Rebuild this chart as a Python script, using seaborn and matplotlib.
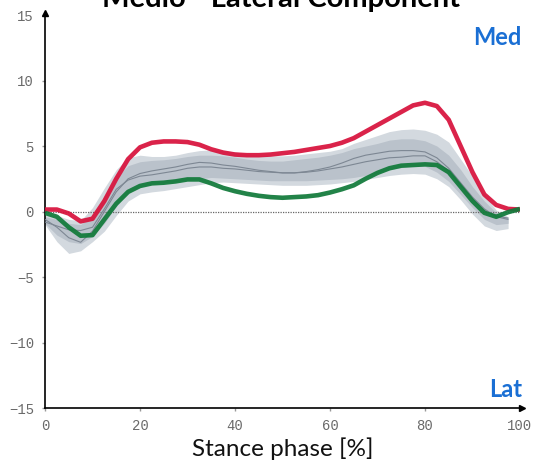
import matplotlib
matplotlib.use("Agg")
import matplotlib.pyplot as plt
import seaborn as sns
import numpy as np

# ---------------- data ----------------
stance = [0, 2.5, 5, 7.5, 10, 12.5, 15, 17.5, 20, 22.5, 25, 27.5, 30, 32.5, 35, 37.5,
          40, 42.5, 45, 47.5, 50, 52.5, 55, 57.5, 60, 62.5, 65, 67.5, 70, 72.5, 75,
          77.5, 80, 82.5, 85, 87.5, 90, 92.5, 95, 97.5, 100]

medial_red = [0.15, 0.15, -0.15, -0.75, -0.55, 0.8, 2.5, 4.0, 4.9, 5.25, 5.35, 5.35, 5.3,
              5.1, 4.75, 4.5, 4.35, 4.3, 4.3, 4.35, 4.45, 4.55, 4.7, 4.85, 5.0, 5.25,
              5.6, 6.1, 6.6, 7.1, 7.6, 8.1, 8.3, 8.05, 7.0, 5.0, 3.0, 1.3, 0.5, 0.2, 0.15]

lateral_green = [-0.1, -0.4, -1.2, -1.85, -1.8, -0.6, 0.6, 1.5, 1.95, 2.15, 2.2, 2.3,
                 2.45, 2.45, 2.15, 1.8, 1.55, 1.35, 1.2, 1.1, 1.05, 1.1, 1.15, 1.25,
                 1.45, 1.7, 2.0, 2.5, 2.95, 3.3, 3.5, 3.55, 3.6, 3.55, 3.0, 1.9, 0.8,
                 -0.1, -0.4, -0.05, 0.2]

norm_x = stance[:-1]

norm_line_a = [-0.6, -1.2, -2.0, -2.35, -1.5, 0.0, 1.5, 2.5, 2.9, 3.1, 3.25, 3.4, 3.6,
               3.75, 3.7, 3.55, 3.45, 3.3, 3.15, 3.05, 2.95, 2.95, 3.05, 3.2, 3.4, 3.7,
               4.05, 4.3, 4.45, 4.6, 4.65, 4.65, 4.55, 4.1, 3.3, 2.2, 1.1, 0.2, -0.4, -0.6]

norm_line_b = [-0.8, -1.1, -1.4, -1.45, -1.2, 0.2, 1.7, 2.4, 2.7, 2.8, 2.95, 3.1, 3.3,
               3.4, 3.4, 3.3, 3.25, 3.15, 3.05, 3.0, 2.95, 2.95, 3.0, 3.1, 3.25, 3.4,
               3.6, 3.8, 3.95, 4.1, 4.15, 4.25, 4.25, 3.8, 3.1, 2.0, 1.0, 0.1, -0.35, -0.5]

outer_upper = [-0.2, -0.3, -0.6, -0.7, 0.3, 1.8, 3.2, 4.1, 4.3, 4.2, 4.2, 4.3, 4.5, 4.65,
               4.7, 4.65, 4.55, 4.4, 4.3, 4.25, 4.25, 4.3, 4.4, 4.5, 4.6, 4.8, 5.2, 5.5,
               5.8, 6.1, 6.25, 6.3, 6.2, 5.9, 5.3, 4.0, 2.7, 1.3, 0.1, -0.4]

outer_lower = [-1.0, -2.3, -3.2, -3.0, -2.3, -1.5, -0.3, 0.8, 1.35, 1.5, 1.6, 1.75, 1.9,
               2.05, 2.2, 2.25, 2.2, 2.15, 2.1, 2.05, 2.0, 2.0, 2.0, 2.05, 2.1, 2.2, 2.3,
               2.45, 2.6, 2.75, 2.85, 2.9, 2.85, 2.5, 1.9, 0.9, -0.2, -1.1, -1.45, -1.3]

inner_upper = [-0.4, -0.6, -0.9, -1.0, -0.3, 1.2, 2.6, 3.5, 3.8, 3.9, 3.95, 4.05, 4.2,
               4.3, 4.3, 4.25, 4.15, 4.0, 3.9, 3.85, 3.85, 3.95, 4.05, 4.15, 4.3, 4.5,
               4.8, 5.0, 5.2, 5.45, 5.55, 5.55, 5.4, 5.0, 4.3, 3.2, 1.9, 0.8, -0.1, -0.5]

inner_lower = [-0.9, -1.8, -2.3, -2.45, -1.9, -0.9, 0.4, 1.4, 1.9, 2.1, 2.2, 2.3, 2.4,
               2.5, 2.6, 2.55, 2.5, 2.45, 2.4, 2.35, 2.35, 2.35, 2.35, 2.4, 2.45, 2.5,
               2.6, 2.75, 2.95, 3.2, 3.35, 3.45, 3.45, 3.0, 2.3, 1.3, 0.3, -0.6, -1.0, -0.9]

x_ticks = [0, 20, 40, 60, 80, 100]
y_ticks = [-15, -10, -5, 0, 5, 10, 15]

title_text = "Medio - Lateral Component"
x_label = "Stance phase [%]"
top_label = "Med"
bottom_label = "Lat"

# ---------------- style ----------------
sns.set_theme(style="white")
plt.rcParams['font.family'] = ['Lato', 'DejaVu Sans']

fig = plt.figure(figsize=(5.39, 4.69), dpi=100)
ax = fig.add_axes([0.0835, 0.130, 0.8812, 0.838])

# bands
ax.fill_between(norm_x, outer_lower, outer_upper, color='#d3d9df', lw=0, zorder=1)
ax.fill_between(norm_x, inner_lower, inner_upper, color='#bac2cb', lw=0, zorder=2)

sns.lineplot(x=norm_x, y=norm_line_a, ax=ax, color='#7d8793', lw=0.8, zorder=3)
sns.lineplot(x=norm_x, y=norm_line_b, ax=ax, color='#7d8793', lw=0.8, zorder=3)

# zero line
ax.axhline(0, color='#666666', lw=0.9, ls=(0, (1, 1)), zorder=2.5)

sns.lineplot(x=stance, y=medial_red, ax=ax, color='#d8123c', lw=3.3, alpha=0.93, zorder=4,
             solid_joinstyle='round', solid_capstyle='butt')
sns.lineplot(x=stance, y=lateral_green, ax=ax, color='#117a3a', lw=3.3, alpha=0.93, zorder=4,
             solid_joinstyle='round', solid_capstyle='butt')

ax.set_xlim(0, 100)
ax.set_ylim(-15, 15)
ax.set_xticks(x_ticks)
ax.set_yticks(y_ticks)
mono = 'Liberation Mono'
ax.set_xticklabels([str(t) for t in x_ticks], fontfamily=mono, fontsize=10, color='#6a6a6a')
ax.set_yticklabels([str(t).replace('-', '\u2212') for t in y_ticks], fontfamily=mono,
                   fontsize=10, color='#6a6a6a')
ax.tick_params(axis='both', which='both', length=2, width=1, color='#999999', pad=6,
               direction='out', left=True, bottom=True)

for s in ['top', 'right']:
    ax.spines[s].set_visible(False)
for s in ['left', 'bottom']:
    ax.spines[s].set_color('black')
    ax.spines[s].set_linewidth(1.2)

# arrow heads
ax.plot([0], [1.005], marker='^', color='black', ms=4, transform=ax.transAxes, clip_on=False)
ax.plot([1.005], [0], marker='>', color='black', ms=4, transform=ax.transAxes, clip_on=False)

ax.set_xlabel(x_label, fontsize=17.5, color='#111111', labelpad=3)
ax.set_ylabel('')

ax.text(100.4, 13.3, top_label, color='#1a6fd4', fontsize=17, fontweight='bold',
        ha='right', va='center')
ax.text(100.4, -13.6, bottom_label, color='#1a6fd4', fontsize=17, fontweight='bold',
        ha='right', va='center')

fig.text(0.522, 0.986, title_text, fontsize=21, fontweight='bold', ha='center',
         va='baseline', color='black')

fig.savefig('out.png', dpi=100)
